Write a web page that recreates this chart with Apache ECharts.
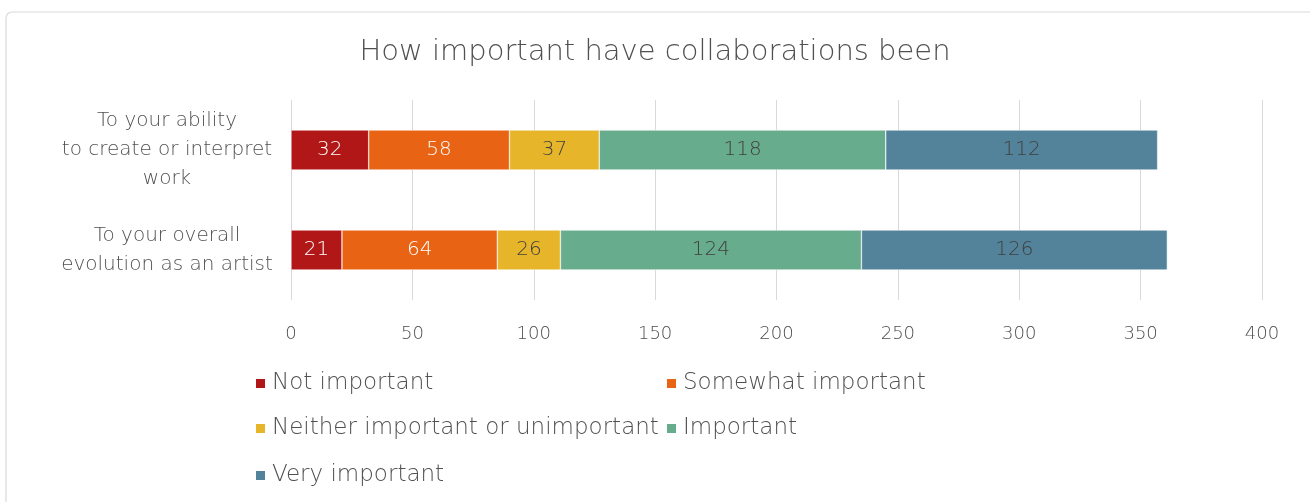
<!DOCTYPE html>
<html>
<head>
<meta charset="utf-8">
<script src="https://cdn.jsdelivr.net/npm/echarts@6/dist/echarts.min.js"></script>
<style>
  html, body { margin: 0; padding: 0; background: #fff; }
  #chart { width: 1310px; height: 502px; }
</style>
</head>
<body>
<div id="chart"></div>
<script>
// Survey answers: how important have collaborations been
const categories = [
  'To your ability\nto create or interpret\nwork',
  'To your overall\nevolution as an artist'
];
const notImportant = [32, 21];
const somewhatImportant = [58, 64];
const neitherImportant = [37, 26];
const important = [118, 124];
const veryImportant = [112, 126];
const xTicks = [0, 50, 100, 150, 200, 250, 300, 350, 400];

const FONT = '"DejaVu Sans", sans-serif';
const TEXT = '#505050';

const seriesDefs = [
  { name: 'Not important', data: notImportant, color: '#B21717', label: '#ffffff' },
  { name: 'Somewhat important', data: somewhatImportant, color: '#E96314', label: '#ffffff' },
  { name: 'Neither important or unimportant', data: neitherImportant, color: '#E6B529', label: '#404040' },
  { name: 'Important', data: important, color: '#68AC8E', label: '#404040' },
  { name: 'Very important', data: veryImportant, color: '#53839A', label: '#404040' }
];

// legend entries placed in two fixed columns
const legendPos = [
  { left: 254, top: 372 },
  { left: 665, top: 372 },
  { left: 254, top: 417 },
  { left: 665, top: 417 },
  { left: 254, top: 464 }
];

const chart = echarts.init(document.getElementById('chart'));
chart.setOption({
  backgroundColor: '#ffffff',
  animation: false,
  title: {
    text: 'How important have collaborations been',
    left: 'center',
    top: 33,
    textStyle: { fontFamily: FONT, fontSize: 29, fontWeight: 300, color: TEXT }
  },
  graphic: [{
    type: 'rect',
    shape: { x: 6, y: 12, width: 1320, height: 520, r: 6 },
    style: { fill: 'none', stroke: '#d9d9d9', lineWidth: 1.2 },
    silent: true
  }],
  legend: seriesDefs.map((s, i) => ({
    data: [s.name],
    left: legendPos[i].left,
    top: legendPos[i].top,
    icon: 'rect',
    itemWidth: 11,
    itemHeight: 11,
    padding: 0,
    textStyle: { fontFamily: FONT, fontSize: 23, fontWeight: 300, color: TEXT, padding: [0, 0, 0, 1] }
  })),
  grid: { left: 291, right: 48, top: 100, height: 200, containLabel: false },
  xAxis: {
    type: 'value',
    min: 0,
    max: 400,
    interval: 50,
    axisLine: { show: false },
    axisTick: { show: false },
    splitLine: { lineStyle: { color: '#d9d9d9', width: 1 } },
    axisLabel: {
      margin: 25,
      fontFamily: FONT,
      fontSize: 18,
      fontWeight: 300,
      color: TEXT,
      formatter: v => (xTicks.indexOf(v) >= 0 ? String(v) : '')
    }
  },
  yAxis: {
    type: 'category',
    data: categories,
    inverse: true,
    axisLine: { show: false },
    axisTick: { show: false },
    axisLabel: {
      margin: 124,
      align: 'center',
      fontFamily: FONT,
      fontSize: 20,
      fontWeight: 300,
      lineHeight: 29,
      padding: [6, 0, 0, 0],
      color: TEXT
    }
  },
  series: seriesDefs.map(s => ({
    name: s.name,
    type: 'bar',
    stack: 'total',
    barWidth: '40%',
    data: s.data,
    itemStyle: { color: s.color, borderColor: '#ffffff', borderWidth: 0.5 },
    label: {
      show: true,
      position: 'inside',
      fontFamily: FONT,
      fontSize: 20,
      fontWeight: 300,
      color: s.label
    }
  }))
});
</script>
</body>
</html>
